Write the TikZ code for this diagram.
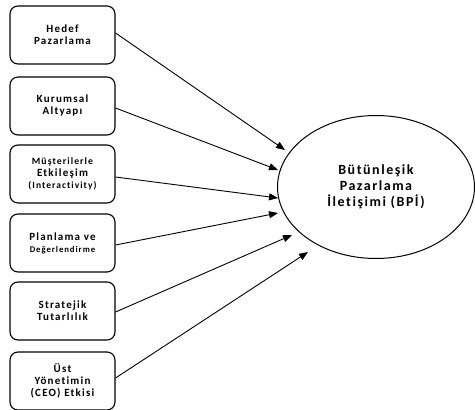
\documentclass[tikz,border=0pt]{standalone}
\usepackage{fontspec}
\setmainfont{Carlito}[LetterSpace=11,Ligatures=NoCommon]
\usetikzlibrary{arrows.meta,shapes.geometric}
\begin{document}
\begin{tikzpicture}[x=1pt,y=-1pt,
  factor/.style={draw, line width=1.1pt, rounded corners=8pt, minimum width=105pt, minimum height=58pt, align=center, font=\bfseries\fontsize{11}{12}\selectfont, inner sep=0pt},
  link/.style={line width=0.9pt, -{Triangle[length=9pt,width=7pt]}}]
\useasboundingbox (0,0) rectangle (475,410);
\node[factor] (b1) at (62.5,35) {Hedef\\Pazarlama};
\node[factor] (b2) at (62.5,106) {Kurumsal\\Altyapı};
\node[factor] (b3) at (62.5,174) {{\fontsize{9.7}{12}\selectfont Müşterilerle}\\Etkileşim\\{\fontsize{9.5}{12}\selectfont (Interactivity)}};
\node[factor] (b4) at (62.5,243) {Planlama ve\\{\fontsize{8.7}{12}\selectfont Değerlendirme}};
\node[factor] (b5) at (62.5,311) {Stratejik\\Tutarlılık};
\node[factor] (b6) at (62.5,381) {Üst\\Yönetimin\\(CEO) Etkisi};
\node[draw, line width=1pt, ellipse, minimum width=197pt, minimum height=143pt, align=center, font=\bfseries\fontsize{14}{16}\selectfont, inner sep=0pt] (bpi) at (376,187) {Bütünleşik\\Pazarlama\\İletişimi (BPİ)};
\coordinate (t1) at (285,150);
\coordinate (t2) at (278,170);
\coordinate (t3) at (278,198);
\coordinate (t4) at (278,213);
\coordinate (t5) at (292,235);
\coordinate (t6) at (308,252);
\draw[link] (b1.east |- 0,33) -- (t1);
\draw[link] (b2.east |- 0,108) -- (t2);
\draw[link] (b3.east |- 0,177) -- (t3);
\draw[link] (b4.east |- 0,245) -- (t4);
\draw[link] (b5.east |- 0,312) -- (t5);
\draw[link] (b6.east |- 0,378) -- (t6);
\end{tikzpicture}
\end{document}
